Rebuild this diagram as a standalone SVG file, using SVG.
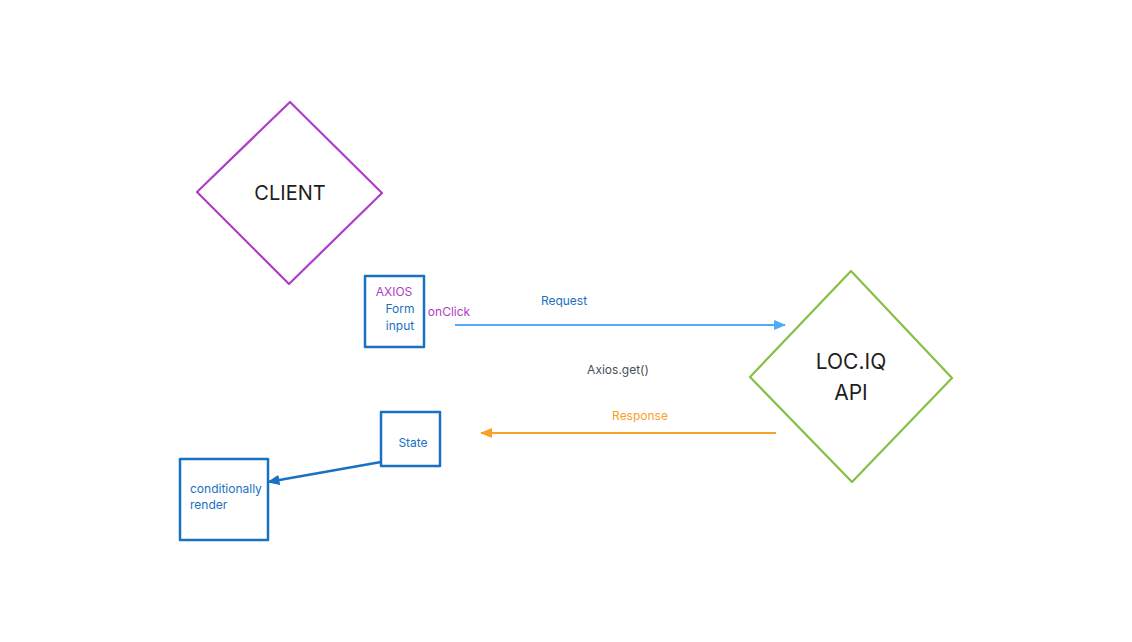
<svg xmlns="http://www.w3.org/2000/svg" width="1132" height="642" viewBox="0 0 1132 642">
<style>
text{font-family:Inter,"Noto Sans","Liberation Sans",sans-serif}
.box{fill:none;stroke:#1971c2;stroke-width:2.5;stroke-linejoin:round}
.t{font-size:12px;fill:#1971c2}
.p{fill:#ae3ec9}
</style>
<defs>
<marker id="mb" viewBox="0 0 12 10" refX="11" refY="5" markerWidth="5.5" markerHeight="4.6" orient="auto" markerUnits="strokeWidth"><path d="M0,0L12,5L0,10z" fill="#4dabf7"/></marker>
<marker id="mo" viewBox="0 0 12 10" refX="11" refY="5" markerWidth="5.5" markerHeight="4.6" orient="auto" markerUnits="strokeWidth"><path d="M0,0L12,5L0,10z" fill="#f8a128"/></marker>
<marker id="md" viewBox="0 0 12 10" refX="11" refY="5" markerWidth="5" markerHeight="4.2" orient="auto" markerUnits="strokeWidth"><path d="M0,0L12,5L0,10z" fill="#1971c2"/></marker>
</defs>
<rect width="1132" height="642" fill="#fff"/>
<g id="client">
<path d="M290,102 L382,193 L289,284 L197,192 Z" fill="none" stroke="#ae3ec9" stroke-width="2.2" stroke-linejoin="round"/>
<text x="290" y="200" font-size="20" text-anchor="middle" fill="#1e1e1e">CLIENT</text>
</g>
<g id="api">
<path d="M851,271 L952,378 L852,482 L750,377 Z" fill="none" stroke="#86bf46" stroke-width="2.2" stroke-linejoin="round"/>
<text x="851" y="369" font-size="21" text-anchor="middle" fill="#1e1e1e">LOC.IQ</text>
<text x="851" y="400" font-size="21" text-anchor="middle" fill="#1e1e1e">API</text>
</g>
<g id="axios">
<rect class="box" x="365" y="276" width="59" height="71"/>
<text x="394" y="296" font-size="12" text-anchor="middle" class="p">AXIOS</text>
<text x="400" y="313" class="t" text-anchor="middle">Form</text>
<text x="400" y="330" class="t" text-anchor="middle">input</text>
</g>
<g id="state">
<rect class="box" x="381" y="412" width="59" height="54"/>
<text x="413" y="447" class="t" text-anchor="middle">State</text>
</g>
<g id="render">
<rect class="box" x="180" y="459" width="88" height="81"/>
<text x="190" y="493" class="t">conditionally</text>
<text x="190" y="509" class="t">render</text>
</g>
<g id="connectors">
<line x1="455" y1="325" x2="785" y2="325" stroke="#4dabf7" stroke-width="2.2" marker-end="url(#mb)"/>
<line x1="776" y1="433" x2="481" y2="433" stroke="#f8a128" stroke-width="2.2" marker-end="url(#mo)"/>
<line x1="381" y1="462" x2="268" y2="482" stroke="#1971c2" stroke-width="2.5" marker-end="url(#md)"/>
</g>
<g id="labels">
<text x="449" y="316" font-size="12" text-anchor="middle" class="p">onClick</text>
<text x="564" y="305" font-size="12" text-anchor="middle" fill="#1971c2">Request</text>
<text x="618" y="374" font-size="12" text-anchor="middle" fill="#495057">Axios.get()</text>
<text x="640" y="420" font-size="12" text-anchor="middle" fill="#f8a128">Response</text>
</g>
</svg>
